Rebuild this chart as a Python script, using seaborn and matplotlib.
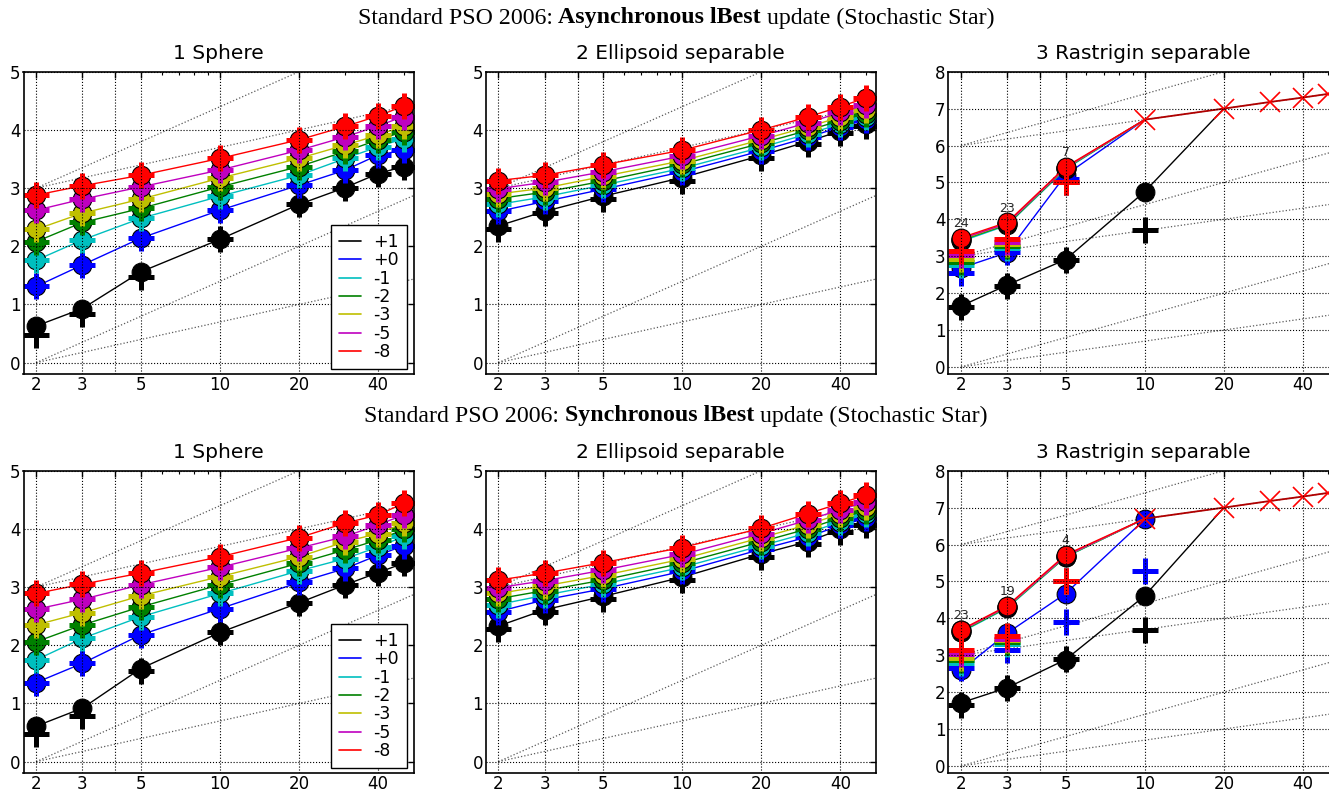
import numpy as np
import pandas as pd
import matplotlib
matplotlib.use("Agg")
import matplotlib.pyplot as plt
import seaborn as sns
from matplotlib.lines import Line2D
from matplotlib.ticker import FixedLocator, FixedFormatter, LogLocator, NullFormatter

# ---------------- data ----------------
DIMS = [2, 3, 5, 10, 20, 30, 40, 50]
TARGETS = ['+1', '+0', '-1', '-2', '-3', '-5', '-8']
COLORS = ['#000000', '#0000ff', '#00bfbf', '#008000', '#bfbf00', '#bf00bf', '#ff0000']
XTICKS = [2, 3, 4, 5, 10, 20, 40]
XTICKLABELS = ['2', '3', '', '5', '10', '20', '40']
PANEL_TITLES = ['1 Sphere', '2 Ellipsoid separable', '3 Rastrigin separable']
ROW_TITLES = [("Standard PSO 2006: ", "Asynchronous lBest", " update (Stochastic Star)"),
              ("Standard PSO 2006: ", "Synchronous lBest", " update (Stochastic Star)")]
NAN = np.nan

# Sphere, asynchronous (log10 ERT / dim), one row per target
asy_sphere = [
    [0.63, 0.93, 1.56, 2.12, 2.72, 3.01, 3.25, 3.37],
    [1.31, 1.68, 2.14, 2.62, 3.05, 3.31, 3.57, 3.65],
    [1.76, 2.11, 2.48, 2.86, 3.22, 3.51, 3.71, 3.85],
    [2.08, 2.41, 2.65, 3.02, 3.37, 3.63, 3.83, 3.97],
    [2.29, 2.57, 2.81, 3.17, 3.51, 3.74, 3.91, 4.07],
    [2.62, 2.81, 3.02, 3.31, 3.65, 3.88, 4.07, 4.23],
    [2.88, 3.04, 3.22, 3.51, 3.83, 4.06, 4.24, 4.41],
]
asy_sphere_med_k = [0.48, 0.84, 1.47, 2.12, 2.72, 3.01, 3.25, 3.37]

# Sphere, synchronous
syn_sphere = [
    [0.61, 0.92, 1.60, 2.22, 2.73, 3.04, 3.25, 3.41],
    [1.36, 1.69, 2.18, 2.63, 3.08, 3.32, 3.55, 3.71],
    [1.75, 2.12, 2.49, 2.89, 3.28, 3.49, 3.69, 3.87],
    [2.06, 2.35, 2.66, 3.04, 3.41, 3.64, 3.81, 3.99],
    [2.35, 2.56, 2.85, 3.18, 3.52, 3.78, 3.92, 4.10],
    [2.62, 2.79, 3.04, 3.34, 3.67, 3.87, 4.07, 4.24],
    [2.89, 3.05, 3.24, 3.52, 3.85, 4.10, 4.24, 4.44],
]
syn_sphere_med_k = [0.48, 0.78, 1.55, 2.22, 2.73, 3.04, 3.25, 3.41]

# Ellipsoid separable, asynchronous
asy_ellip = [
    [2.35, 2.60, 2.86, 3.18, 3.56, 3.80, 3.98, 4.10],
    [2.60, 2.77, 2.98, 3.28, 3.64, 3.87, 4.05, 4.17],
    [2.72, 2.85, 3.05, 3.34, 3.70, 3.93, 4.10, 4.22],
    [2.82, 2.93, 3.12, 3.41, 3.77, 3.99, 4.16, 4.28],
    [2.90, 3.00, 3.20, 3.47, 3.83, 4.05, 4.22, 4.35],
    [2.99, 3.10, 3.28, 3.55, 3.90, 4.12, 4.30, 4.43],
    [3.13, 3.22, 3.40, 3.65, 4.00, 4.22, 4.40, 4.55],
]
asy_ellip_med_k = [2.30, 2.57, 2.82, 3.13, 3.52, 3.76, 3.95, 4.06]

# Ellipsoid separable, synchronous
syn_ellip = [
    [2.33, 2.61, 2.84, 3.17, 3.57, 3.78, 3.99, 4.10],
    [2.58, 2.78, 2.97, 3.27, 3.65, 3.86, 4.06, 4.18],
    [2.70, 2.86, 3.05, 3.34, 3.71, 3.93, 4.12, 4.25],
    [2.80, 2.94, 3.12, 3.41, 3.78, 4.00, 4.19, 4.31],
    [2.89, 3.02, 3.20, 3.48, 3.85, 4.07, 4.26, 4.38],
    [2.99, 3.11, 3.29, 3.56, 3.92, 4.15, 4.33, 4.46],
    [3.12, 3.24, 3.42, 3.68, 4.01, 4.26, 4.44, 4.58],
]
syn_ellip_med_k = [2.28, 2.57, 2.80, 3.12, 3.52, 3.74, 3.95, 4.06]

# Rastrigin separable, asynchronous (NaN = target not reached)
asy_rast = [
    [1.65, 2.22, 2.91, 4.75, NAN, NAN, NAN, NAN],
    [2.68, 3.10, 5.20, NAN, NAN, NAN, NAN, NAN],
    [3.40, 3.84, 5.36, NAN, NAN, NAN, NAN, NAN],
    [3.43, 3.86, 5.38, NAN, NAN, NAN, NAN, NAN],
    [3.45, 3.88, 5.39, NAN, NAN, NAN, NAN, NAN],
    [3.47, 3.89, 5.40, NAN, NAN, NAN, NAN, NAN],
    [3.50, 3.92, 5.42, NAN, NAN, NAN, NAN, NAN],
]
asy_rast_med = [
    [1.63, 2.20, 2.90, 3.70, NAN, NAN, NAN, NAN],
    [2.55, 3.12, 5.10, NAN, NAN, NAN, NAN, NAN],
    [2.76, 3.22, 5.00, NAN, NAN, NAN, NAN, NAN],
    [2.85, 3.27, 5.00, NAN, NAN, NAN, NAN, NAN],
    [2.93, 3.32, 5.00, NAN, NAN, NAN, NAN, NAN],
    [3.03, 3.39, 5.00, NAN, NAN, NAN, NAN, NAN],
    [3.14, 3.46, 5.02, NAN, NAN, NAN, NAN, NAN],
]
asy_rast_join = [20, 10, 10, 10, 10, 10, 10]      # dim where each line meets the max-evals curve
asy_rast_max_dims = [10, 20, 30, 40, 50]
asy_rast_max = [6.70, 7.00, 7.18, 7.30, 7.40]
asy_rast_succ = [(2, 3.50, '24'), (3, 3.92, '23'), (5, 5.42, '7')]

# Rastrigin separable, synchronous
syn_rast = [
    [1.71, 2.12, 2.88, 4.61, NAN, NAN, NAN, NAN],
    [2.59, 3.60, 4.67, 6.68, NAN, NAN, NAN, NAN],
    [3.62, 4.28, 5.66, NAN, NAN, NAN, NAN, NAN],
    [3.64, 4.30, 5.67, NAN, NAN, NAN, NAN, NAN],
    [3.66, 4.31, 5.68, NAN, NAN, NAN, NAN, NAN],
    [3.67, 4.32, 5.69, NAN, NAN, NAN, NAN, NAN],
    [3.69, 4.34, 5.72, NAN, NAN, NAN, NAN, NAN],
]
syn_rast_med = [
    [1.65, 2.10, 2.90, 3.67, NAN, NAN, NAN, NAN],
    [2.65, 3.15, 3.89, 5.29, NAN, NAN, NAN, NAN],
    [2.78, 3.30, 5.00, NAN, NAN, NAN, NAN, NAN],
    [2.86, 3.35, 5.00, NAN, NAN, NAN, NAN, NAN],
    [2.93, 3.40, 5.00, NAN, NAN, NAN, NAN, NAN],
    [3.03, 3.45, 5.00, NAN, NAN, NAN, NAN, NAN],
    [3.13, 3.52, 5.00, NAN, NAN, NAN, NAN, NAN],
]
syn_rast_join = [20, None, 10, 10, 10, 10, 10]
syn_rast_max_dims = [10, 20, 30, 40, 50]
syn_rast_max = [6.70, 7.00, 7.18, 7.30, 7.40]
syn_rast_succ = [(2, 3.69, '23'), (3, 4.34, '19'), (5, 5.72, '4')]

GUIDE_OFFSETS = [0, 3, 6]
GUIDE_SLOPES = [1, 2]

# ---------------- style ----------------
sns.set_theme(style="white", color_codes=False)
plt.rcParams['font.family'] = ['DejaVu Sans']
plt.rcParams['axes.edgecolor'] = 'black'
plt.rcParams['axes.linewidth'] = 1.2

W, H = 1329, 794
fig = plt.figure(figsize=(W / 100, H / 100), dpi=100)
fig.patch.set_facecolor('white')

COL_LEFT = [23.5, 485.7, 948.3]
AX_W = 390.0
ROW_TOP = [71.7, 470.7]
AX_H = 302.6


def draw_series(ax, ert, med, join=None, maxd=None, maxv=None, ymax=5):
    for i, (tgt, col) in enumerate(zip(TARGETS, COLORS)):
        z = 1.0 + i * 0.15
        e = pd.DataFrame({'dim': DIMS, 'val': ert[i]}).dropna()
        line = e.copy()
        if join is not None and join[i] is not None:
            j = maxd.index(join[i])
            line = pd.concat([line, pd.DataFrame({'dim': [maxd[j]], 'val': [maxv[j]]})])
        sns.lineplot(data=line, x='dim', y='val', color=col, lw=1.0, ax=ax,
                     zorder=z, legend=False, sort=False)
        sns.lineplot(data=e, x='dim', y='val', color=col, ax=ax, linestyle='',
                     marker='o', markersize=13.5, markeredgecolor='k',
                     markeredgewidth=0.8, zorder=z + 0.05, legend=False)
        m = pd.DataFrame({'dim': DIMS, 'val': med[i]}).dropna()
        sns.lineplot(data=m, x='dim', y='val', color=col, ax=ax, linestyle='',
                     marker='+', markersize=19, markeredgecolor=col,
                     markeredgewidth=3.6, zorder=z + 0.1, legend=False)
    if maxd is not None:
        mx = pd.DataFrame({'dim': maxd, 'val': maxv})
        sns.lineplot(data=mx, x='dim', y='val', color='#b00000', lw=1.3, ax=ax,
                     marker='x', markersize=15, markeredgecolor='#ff0000',
                     markeredgewidth=1.2, zorder=2.3, legend=False)


panels = [
    [(asy_sphere, [asy_sphere_med_k] + asy_sphere[1:], None, None, None, 5, None),
     (asy_ellip, [asy_ellip_med_k] + asy_ellip[1:], None, None, None, 5, None),
     (asy_rast, asy_rast_med, asy_rast_join, asy_rast_max_dims, asy_rast_max, 8, asy_rast_succ)],
    [(syn_sphere, [syn_sphere_med_k] + syn_sphere[1:], None, None, None, 5, None),
     (syn_ellip, [syn_ellip_med_k] + syn_ellip[1:], None, None, None, 5, None),
     (syn_rast, syn_rast_med, syn_rast_join, syn_rast_max_dims, syn_rast_max, 8, syn_rast_succ)],
]

for r in range(2):
    for c in range(3):
        ert, med, join, maxd, maxv, ymax, succ = panels[r][c]
        ax = fig.add_axes([COL_LEFT[c] / W, 1 - (ROW_TOP[r] + AX_H) / H, AX_W / W, AX_H / H])
        ax.set_facecolor('white')
        ax.set_xscale('log')
        for k in GUIDE_OFFSETS:
            if k >= ymax:
                continue
            for s in GUIDE_SLOPES:
                ax.plot([2, 2000], [k, k + 3 * s], ls=':', color='0.35', lw=0.9, zorder=0.5)
        draw_series(ax, ert, med, join, maxd, maxv, ymax)
        if succ is not None:
            for d, v, t in succ:
                ax.annotate(t, (d, v), xytext=(0, 5.5), textcoords='offset points',
                            ha='center', va='bottom', fontsize=9, zorder=3)
        ax.set_xlim(1.79, 54.5)
        ax.set_ylim(-0.2, ymax)
        ax.xaxis.set_major_locator(FixedLocator(XTICKS))
        ax.xaxis.set_major_formatter(FixedFormatter(XTICKLABELS))
        ax.xaxis.set_minor_locator(LogLocator(base=10, subs=np.arange(2, 10)))
        ax.xaxis.set_minor_formatter(NullFormatter())
        ax.set_yticks(range(0, ymax + 1))
        ax.set_axisbelow(False)
        ax.grid(True, which='major', ls=':', color='k', lw=0.8)
        ax.tick_params(which='both', direction='in', top=True, right=True,
                       color='k', labelsize=12, labelcolor='k')
        ax.tick_params(which='major', length=4, width=1)
        ax.tick_params(which='minor', length=2, width=0.8)
        ax.tick_params(axis='y', pad=2)
        ax.tick_params(axis='x', pad=1.5)
        ax.set_xlabel('')
        ax.set_ylabel('')
        ax.set_title(PANEL_TITLES[c], fontsize=14.5, pad=9, color='k')
        for sp in ax.spines.values():
            sp.set_visible(True)
            sp.set_color('k')
            sp.set_linewidth(1.2)
        if c == 0:
            handles = [Line2D([], [], color=col, lw=1.2) for col in COLORS]
            leg = ax.legend(handles, TARGETS, loc='lower right',
                            bbox_to_anchor=(0.983, 0.018), borderaxespad=0,
                            fontsize=12.5, labelspacing=0.02, handlelength=1.3,
                            handletextpad=0.7, borderpad=0.45, fancybox=False,
                            framealpha=1, edgecolor='k')
            leg.get_frame().set_linewidth(1.0)
            for t in leg.get_texts():
                t.set_color('k')

ROW_TITLE_Y = [18, 416]
ROW_TITLE_CX = 676
fig.canvas.draw()
renderer = fig.canvas.get_renderer()
for r in range(2):
    texts = []
    for part, wgt in zip(ROW_TITLES[r], ['normal', 'bold', 'normal']):
        t = fig.text(0, 1 - ROW_TITLE_Y[r] / H, part, family='Liberation Serif',
                     fontweight=wgt, fontsize=17.2, ha='left', va='center', color='k')
        texts.append(t)
    widths = [t.get_window_extent(renderer).width for t in texts]
    x = ROW_TITLE_CX - sum(widths) / 2
    for t, w in zip(texts, widths):
        t.set_x(x / W)
        x += w

fig.savefig('out.png', dpi=100, facecolor='white')
